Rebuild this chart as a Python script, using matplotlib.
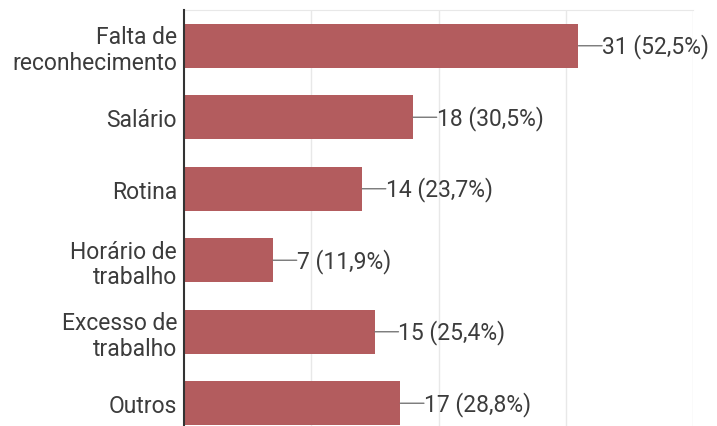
import numpy as np
from matplotlib import pyplot as plt

plt.rcParams['font.family'] = ['Roboto', 'DejaVu Sans']

categories = ['Falta de\nreconhecimento', 'Salário', 'Rotina',
              'Horário de\ntrabalho', 'Excesso de\ntrabalho', 'Outros']
counts = [31, 18, 14, 7, 15, 17]
pct_labels = ['52,5%', '30,5%', '23,7%', '11,9%', '25,4%', '28,8%']

bar_color = '#b35c5e'
text_color = '#3c3c3c'

fig = plt.figure(figsize=(7.17, 4.27), dpi=100)
ax = fig.add_axes([184 / 717, -13 / 427, (693 - 184) / 717, 429 / 427])

y = np.arange(len(categories))
ax.barh(y, counts, height=0.62, color=bar_color, zorder=2)

ax.set_xlim(0, 40)
ax.set_ylim(len(categories) - 0.5, -0.5)
ax.set_xticks([10, 20, 30, 40])
ax.xaxis.grid(True, color='#e8e8e8', linewidth=1, zorder=0)
ax.tick_params(axis='x', length=0, labelbottom=False)
ax.tick_params(axis='y', length=0, pad=5)
ax.set_yticks(y)
ax.set_yticklabels(categories, fontsize=16.5, color=text_color, linespacing=1.15)

for s in ['right', 'bottom']:
    ax.spines[s].set_visible(False)
ax.spines['top'].set_color('#e8e8e8')
ax.spines['left'].set_color('#333333')
ax.spines['left'].set_linewidth(1.5)
ax.spines['left'].set_zorder(3)

# value labels joined to the bar end by a short grey leader
for i, (c, p) in enumerate(zip(counts, pct_labels)):
    ax.annotate(f'{c} ({p})', xy=(c, i), xytext=(17, 0), textcoords='offset points',
                ha='left', va='center', fontsize=16.5, color=text_color,
                arrowprops=dict(arrowstyle='-', color='#777777', lw=1,
                                patchA=None, relpos=(0, 0.5),
                                shrinkA=0, shrinkB=0))

fig.savefig('out.png', dpi=100)
